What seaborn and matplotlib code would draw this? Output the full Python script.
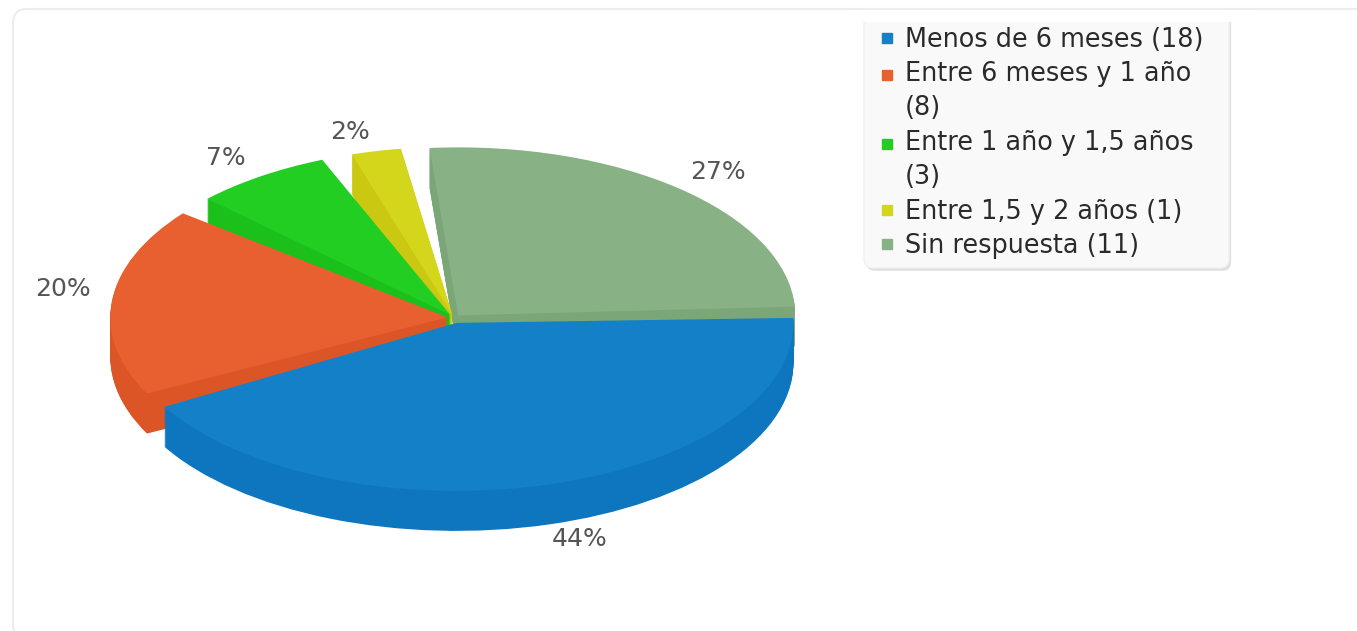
import numpy as np
import matplotlib
matplotlib.use("Agg")
import matplotlib.pyplot as plt
import seaborn as sns
from matplotlib.lines import Line2D
from matplotlib.patches import FancyBboxPatch, Rectangle
import matplotlib.patheffects as pe

# Data
categories = ["Menos de 6 meses", "Entre 6 meses y 1 año", "Entre 1 año y 1,5 años",
              "Entre 1,5 y 2 años", "Sin respuesta"]
counts = [18, 8, 3, 1, 11]
legend_labels = ["Menos de 6 meses (18)", "Entre 6 meses y 1 año\n(8)",
                 "Entre 1 año y 1,5 años\n(3)", "Entre 1,5 y 2 años (1)",
                 "Sin respuesta (11)"]

# Style
top_colors = sns.color_palette(["#1380C8", "#E96030", "#22CE22", "#D4D61C", "#88B285"])
wall_colors = sns.color_palette(["#0E76BE", "#DC5526", "#1BC01B", "#CBC812", "#7BA778"])
explode = [0.03, 0.02, 0.02, 0.02, 0.02]
# the slices are drawn with small gaps, degrees added to each wedge's edges
theta_adjust = [(5, -1.3), (7, 2), (4, 1.5), (-0.8, -1), (0, -4.7)]
draw_order = [5, 4, 3, 2, 1]
label_xy = [(580, 539), (63, 289), (226, 158), (350, 132), (718, 172)]

sns.set_theme(style="white")
plt.rcParams["font.family"] = ["DejaVu Sans"]

W, H = 1357, 631
cx, cy, rx, ry = 454, 318, 337, 168
depth_px = 40

fig = plt.figure(figsize=(W / 100, H / 100), dpi=100, facecolor="white")

# background card, pixel coordinates
bg = fig.add_axes([0, 0, 1, 1], zorder=0)
bg.set_xlim(0, W)
bg.set_ylim(H, 0)
bg.axis("off")
bg.add_patch(FancyBboxPatch((13, 9), 1400, 630, boxstyle="round,pad=0,rounding_size=14",
                            facecolor="white", edgecolor="#EDEDED", linewidth=1.6))

# squashed pie, one stack of pies for the depth
ax = fig.add_axes([0, 0, 1, 1], zorder=1)
for k in np.arange(depth_px, -1, -1):
    colors = top_colors if k == 0 else wall_colors
    wedges, _ = ax.pie(counts, colors=colors, startangle=3, counterclock=False,
                       explode=explode, center=(0, -k / ry), radius=1,
                       wedgeprops={"linewidth": 0})
    for i, w in enumerate(wedges):
        w.set_theta1(w.theta1 + theta_adjust[i][0])
        w.set_theta2(w.theta2 + theta_adjust[i][1])
        w.set_zorder(draw_order[i] * 100 + depth_px - k)
ax.set_aspect("auto")
ax.set_xlim(-cx / rx, (W - cx) / rx)
ax.set_ylim(-(H - cy) / ry, cy / ry)
ax.patch.set_alpha(0)

# labels and legend on top
top = fig.add_axes([0, 0, 1, 1], zorder=2)
top.set_xlim(0, W)
top.set_ylim(H, 0)
top.axis("off")

total = sum(counts)
for v, (x, y) in zip(counts, label_xy):
    top.text(x, y, f"{round(v / total * 100)}%", ha="center", va="center",
             fontsize=18, color="#555555")

# legend box drawn by hand so it can have the size of the original
box = FancyBboxPatch((864, 10), 365, 258, boxstyle="round,pad=0,rounding_size=9",
                     facecolor="#F9F9F9", edgecolor="#F0F0F0", linewidth=1, zorder=4)
box.set_path_effects([pe.SimplePatchShadow(offset=(1.5, -2), shadow_rgbFace="#D8D8D8", alpha=0.8),
                      pe.Normal()])
top.add_patch(box)

handles = [Line2D([], [], linestyle="none", marker="s", markersize=6.5, color=c)
           for c in top_colors]
leg = top.legend(handles, legend_labels, loc="upper left",
                 bbox_to_anchor=(864 / W, 1 - 10 / H), bbox_transform=fig.transFigure,
                 borderaxespad=0, fontsize=18.4, frameon=False,
                 labelspacing=0.34, handlelength=0.5, handletextpad=0.45, borderpad=0.65)
for t, h, label in zip(leg.get_texts(), leg.legend_handles, legend_labels):
    t.set_color("#2a2a2a")
    t.set_linespacing(1.4)
    # keep the marker on the first line of a wrapped label
    if "\n" in label:
        h.set_ydata(np.asarray(h.get_ydata()) + 12.2)
leg.set_zorder(5)
# the legend is cut off at the top
top.add_patch(Rectangle((850, 10), 400, 12, facecolor="white", edgecolor="none", zorder=6))

fig.savefig("out.png", dpi=100)
